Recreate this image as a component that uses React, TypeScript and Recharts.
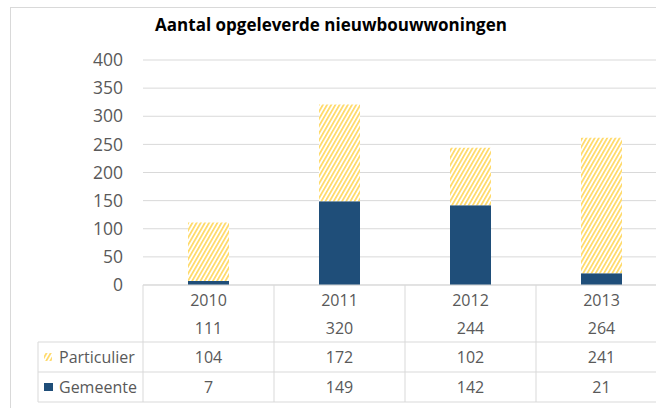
import React from 'react';
import { BarChart, Bar, XAxis, YAxis, CartesianGrid } from 'recharts';

// chart values
const years = ['2010', '2011', '2012', '2013'];
const totals = [111, 320, 244, 264];
const particulier = [104, 172, 102, 241];
const gemeente = [7, 149, 142, 21];
const yTicks = [0, 50, 100, 150, 200, 250, 300, 350, 400];

const data = years.map((year, i) => ({
    year,
    gemeente: gemeente[i],
    particulier: particulier[i],
}));

const GRID = '#d9d9d9';
const TEXT = '#595959';
const BLUE = '#1F4E79';
const YELLOW = '#FFD966';
const FONT = '"Open Sans", "Noto Sans", sans-serif';

const CHART_W = 680;
const Y_AXIS_W = 143;
const RIGHT = 13;
const BAND = (CHART_W - Y_AXIS_W - RIGHT) / years.length;

// data table drawn under the axis, one column per tick
const TableTick = (props: any) => {
    const { x, y, payload } = props;
    const i = years.indexOf(payload.value);
    const left = x - BAND / 2;
    const right = x + BAND / 2;
    const rows = [y + 57, y + 87, y + 117];
    const legendLeft = left - 105;
    return (
        <g fontFamily={FONT} fontSize={16} fill={TEXT}>
            {i === 0 && <line x1={left} x2={left} y1={y} y2={y + 117} stroke={GRID} />}
            <line x1={right} x2={right} y1={y} y2={y + 117} stroke={GRID} />
            {rows.map((ry) => (
                <line key={ry} x1={i === 0 ? legendLeft : left} x2={right} y1={ry} y2={ry} stroke={GRID} />
            ))}
            <text x={x} y={y + 15} dy=".35em" textAnchor="middle" fill={TEXT}>{payload.value}</text>
            <text x={x} y={y + 43} dy=".35em" textAnchor="middle" fill={TEXT}>{totals[i]}</text>
            <text x={x} y={y + 72} dy=".35em" textAnchor="middle" fill={TEXT}>{particulier[i]}</text>
            <text x={x} y={y + 102} dy=".35em" textAnchor="middle" fill={TEXT}>{gemeente[i]}</text>
            {i === 0 && (
                <g>
                    <line x1={legendLeft} x2={legendLeft} y1={y + 57} y2={y + 117} stroke={GRID} />
                    <rect x={legendLeft + 6} y={y + 68} width={8} height={8} fill="url(#hatch)" />
                    <text x={legendLeft + 21} y={y + 72} dy=".35em" fill={TEXT}>Particulier</text>
                    <rect x={legendLeft + 6} y={y + 98} width={9} height={8} fill={BLUE} />
                    <text x={legendLeft + 21} y={y + 102} dy=".35em" fill={TEXT}>Gemeente</text>
                </g>
            )}
        </g>
    );
};

export default function App() {
    return (
        <div style={{ position: 'absolute', left: 0, top: 0, width: 656, height: 408, overflow: 'hidden', background: '#fff' }}>
            <div style={{ position: 'absolute', left: 10, top: 7, width: 800, height: 600, border: `1px solid ${GRID}` }} />
            <div style={{ position: 'absolute', left: 3, top: 13, width: 656, textAlign: 'center', fontFamily: FONT, fontWeight: 700, fontSize: 17, color: '#000' }}>
                Aantal opgeleverde nieuwbouwwoningen
            </div>
            <div style={{ position: 'absolute', left: 0, top: 0 }}>
                <BarChart width={CHART_W} height={408} data={data} margin={{ top: 60, right: RIGHT, bottom: 0, left: 0 }} barSize={41}>
                    <defs>
                        <pattern id="hatch" patternUnits="userSpaceOnUse" width={3.6} height={10} patternTransform="rotate(30)">
                            <rect width={3.6} height={10} fill="#fff" />
                            <rect width={1.7} height={10} fill={YELLOW} />
                        </pattern>
                    </defs>
                    <CartesianGrid vertical={false} stroke={GRID} />
                    <YAxis
                        width={Y_AXIS_W}
                        domain={[0, 400]}
                        ticks={yTicks}
                        axisLine={false}
                        tickLine={false}
                        tickMargin={14}
                        tick={{ fill: TEXT, fontSize: 17.5, fontFamily: FONT }}
                    />
                    <XAxis
                        dataKey="year"
                        height={123}
                        interval={0}
                        tickLine={false}
                        tickSize={0}
                        tickMargin={0}
                        axisLine={{ stroke: GRID }}
                        tick={<TableTick />}
                    />
                    <Bar dataKey="gemeente" stackId="a" fill={BLUE} isAnimationActive={false} />
                    <Bar dataKey="particulier" stackId="a" fill="url(#hatch)" isAnimationActive={false} />
                </BarChart>
            </div>
        </div>
    );
}
